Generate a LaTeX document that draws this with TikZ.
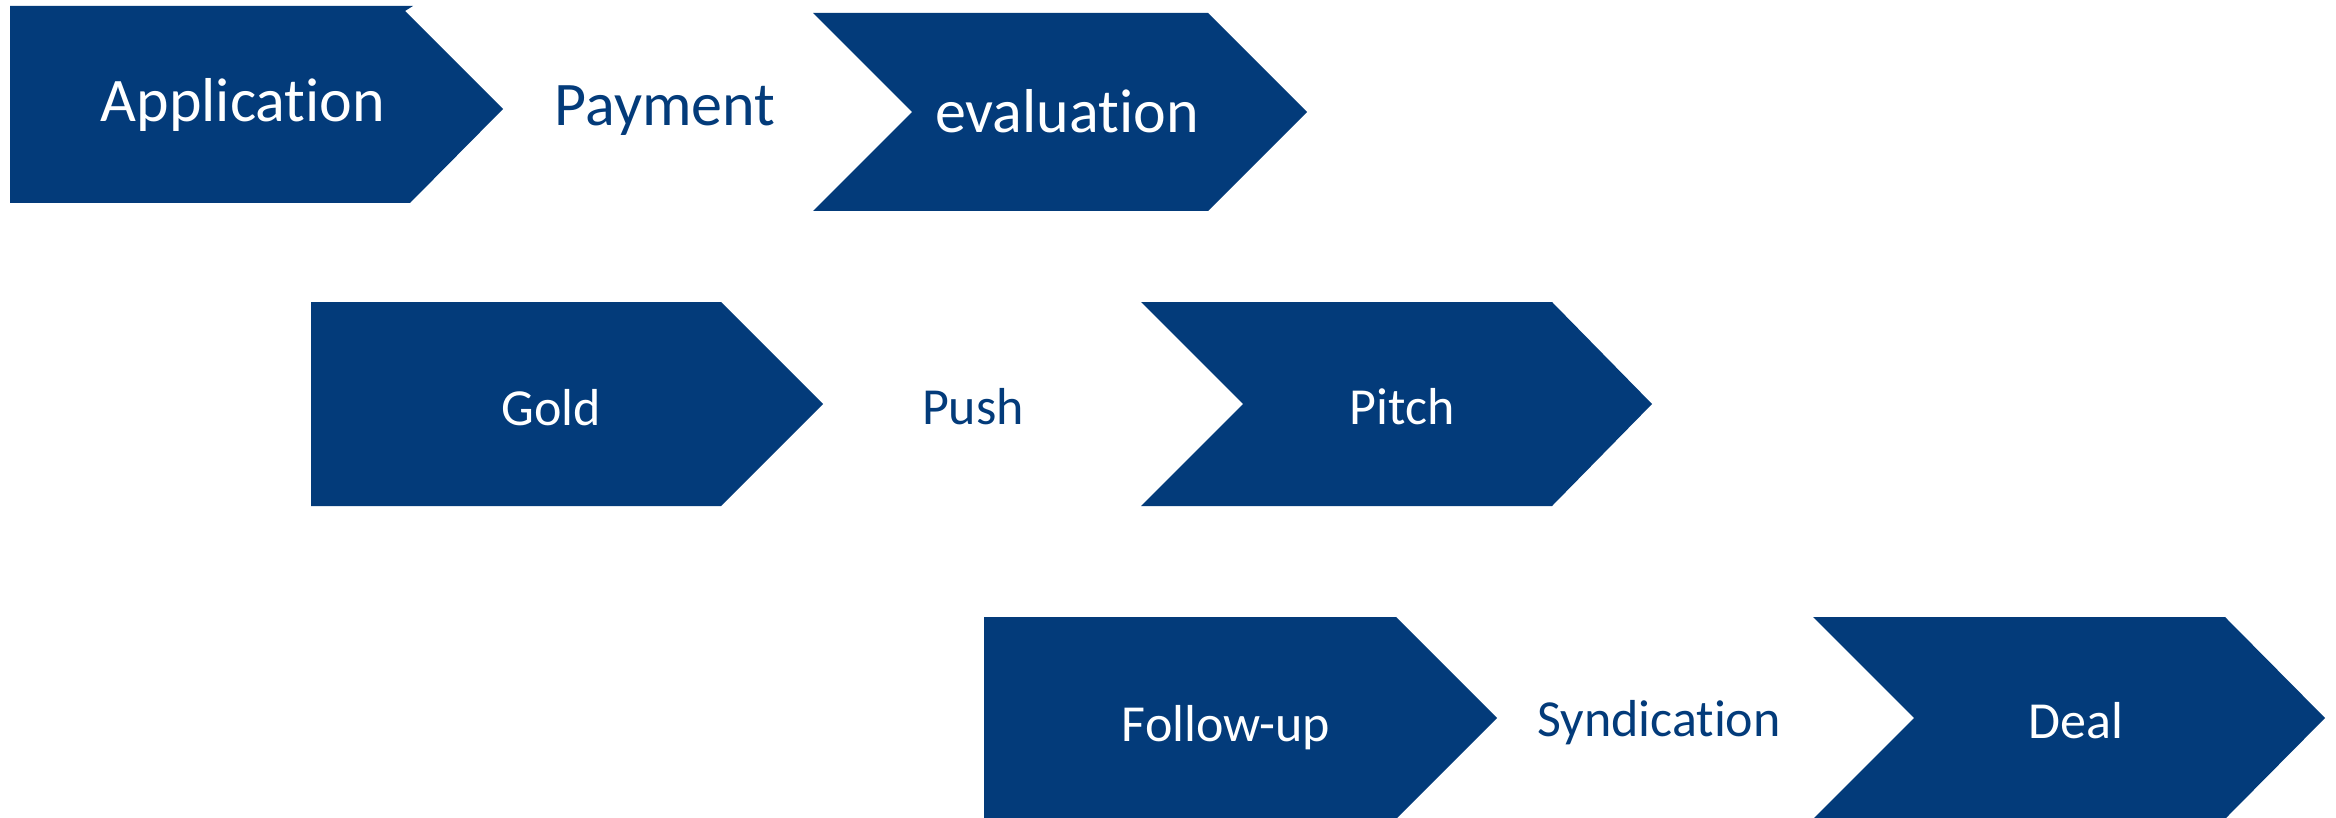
\documentclass[tikz,border=0pt]{standalone}
\usepackage{fontspec}
\setmainfont{Carlito}[Ligatures={NoCommon,NoContextual,NoRare}]
\definecolor{navy}{HTML}{033B7A}
\begin{document}
\begin{tikzpicture}[x=1pt,y=-1pt,
  shapefill/.style={fill=navy},
  bigtxt/.style={anchor=base,inner sep=0pt,font=\fontsize{62}{74}\selectfont},
  midtxt/.style={anchor=base,inner sep=0pt,font=\fontsize{52}{62}\selectfont},
  intxt/.style={text=white},
  outtxt/.style={text=navy}]
\useasboundingbox (0,0) rectangle (2336,818);
% row 1
\fill[shapefill] (10,6) -- (413,6) -- (405,11) -- (503,109) -- (410,203) -- (10,203) -- cycle;
\fill[shapefill] (813,13) -- (1208,13) -- (1307,112) -- (1208,211) -- (813,211) -- (912,112) -- cycle;
% row 2
\fill[shapefill] (311,302) -- (721,302) -- (823,404) -- (721,506) -- (311,506) -- cycle;
\fill[shapefill] (1141,302) -- (1552,302) -- (1652,404) -- (1552,506) -- (1141,506) -- (1243,404) -- cycle;
% row 3
\fill[shapefill] (984,617) -- (1396,617) -- (1497,718) -- (1396,819) -- (984,819) -- cycle;
\fill[shapefill] (1813,617) -- (2225,617) -- (2325,718) -- (2225,819) -- (1813,819) -- (1914,718) -- cycle;
% texts
\node[bigtxt,intxt] (app) at (243,122) {Application};
\node[bigtxt,outtxt] (pay) at (665,126) {Payment};
\node[bigtxt,intxt] (eval) at (1067,133) {evaluation};
\node[midtxt,intxt] (gold) at (551,425) {Gold};
\node[midtxt,outtxt] (push) at (973,424) {Push};
\node[midtxt,intxt] (pitch) at (1402,424) {Pitch};
\node[midtxt,intxt] (follow) at (1226,741) {Follow-up};
\node[midtxt,outtxt] (synd) at (1659,736) {Syndication};
\node[midtxt,intxt] (deal) at (2076,738) {Deal};
\end{tikzpicture}
\end{document}
